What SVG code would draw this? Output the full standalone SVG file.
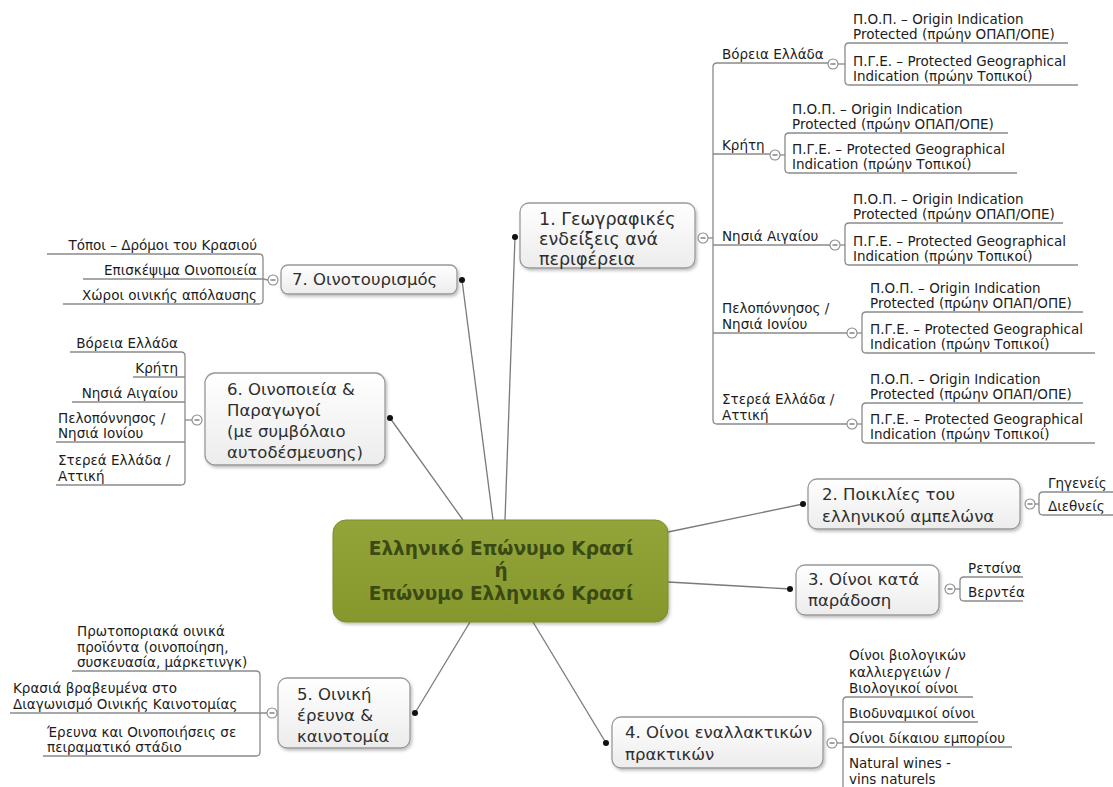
<svg xmlns="http://www.w3.org/2000/svg" width="1113" height="787" viewBox="0 0 1113 787">
  <defs>
    <linearGradient id="boxFill" x1="0" y1="0" x2="0" y2="1">
      <stop offset="0" stop-color="#ffffff"/>
      <stop offset="1" stop-color="#ececec"/>
    </linearGradient>
    <linearGradient id="rootFill" x1="0" y1="0" x2="0" y2="1">
      <stop offset="0" stop-color="#93a43a"/>
      <stop offset="1" stop-color="#86972c"/>
    </linearGradient>
    <filter id="shadow" x="-10%" y="-10%" width="130%" height="140%">
      <feDropShadow dx="1.5" dy="2" stdDeviation="1.5" flood-color="#000" flood-opacity="0.25"/>
    </filter>
  </defs>
  <style>
    .bg { fill: #ffffff; }
    .box { fill: url(#boxFill); stroke: #999999; stroke-width: 1.3; filter: url(#shadow); }
    .root { fill: url(#rootFill); stroke: #7d8d2a; stroke-width: 1; filter: url(#shadow); }
    .t { font-family: "DejaVu Sans", Verdana, sans-serif; font-size: 16.5px; fill: #2e2e2e; }
    .t1 { font-size: 17.5px; }
    .rt { font-family: "DejaVu Sans", Verdana, sans-serif; font-size: 18.5px; font-weight: bold; fill: #3a4a14; text-anchor: middle; }
    .s { font-family: "DejaVu Sans", Verdana, sans-serif; font-size: 13.5px; fill: #1c1c1c; }
    .e { text-anchor: end; }
    .ln { fill: none; stroke: #7a7a7a; stroke-width: 1.3; }
    .br { fill: none; stroke: #8a8a8a; stroke-width: 1.3; }
    .dot { fill: #111111; }
    .tog { fill: #ffffff; stroke: #8a8a8a; stroke-width: 1.1; }
    .tm { stroke: #555555; stroke-width: 1.1; }
  </style>

  <rect class="bg" x="0" y="0" width="1113" height="787"/>

  <!-- central topic links -->
  <g id="connectors">
    <path class="ln" d="M505,520 L515,237"/>
    <path class="ln" d="M493,520 L462,280"/>
    <path class="ln" d="M463,520 L390,418"/>
    <path class="ln" d="M470,622 L415,713"/>
    <path class="ln" d="M533,622 L606,743"/>
    <path class="ln" d="M668,532 L803,504"/>
    <path class="ln" d="M668,582 L790,589"/>
    <circle class="dot" cx="515" cy="237" r="3"/>
    <circle class="dot" cx="462" cy="280" r="3"/>
    <circle class="dot" cx="390" cy="418" r="3"/>
    <circle class="dot" cx="415" cy="713" r="3"/>
    <circle class="dot" cx="606" cy="743" r="3"/>
    <circle class="dot" cx="803" cy="504" r="3"/>
    <circle class="dot" cx="790" cy="589" r="3"/>
  </g>

  <!-- central topic -->
  <g id="root">
    <rect class="root" x="333" y="520" width="335" height="102" rx="13"/>
    <text class="rt" x="501" y="555">Ελληνικό Επώνυμο Κρασί</text>
    <text class="rt" x="501" y="577">ή</text>
    <text class="rt" x="501" y="600">Επώνυμο Ελληνικό Κρασί</text>
  </g>

  <!-- 1. geographical indications -->
  <g id="node1">
    <rect class="box" x="520" y="203" width="175" height="65" rx="9"/>
    <text class="t t1" x="539" y="225">1. Γεωγραφικές</text>
    <text class="t t1" x="539" y="245">ενδείξεις ανά</text>
    <text class="t t1" x="539" y="265">περιφέρεια</text>
    <path class="br" d="M708,238 H713"/>
    <path class="br" d="M828,63 H717 Q713,63 713,67 V420 Q713,424 717,424 H847"/>
    <path class="br" d="M713,154 H770"/>
    <path class="br" d="M713,245 H830"/>
    <path class="br" d="M713,333 H847"/>
    <circle class="tog" cx="703" cy="238" r="5"/><path class="tm" d="M700.5,238 H705.5"/>

    <text class="s" x="722" y="59">Βόρεια Ελλάδα</text>
    <text class="s" x="722" y="150">Κρήτη</text>
    <text class="s" x="722" y="241">Νησιά Αιγαίου</text>
    <text class="s" x="722" y="313">Πελοπόννησος /</text>
    <text class="s" x="722" y="329">Νησιά Ιονίου</text>
    <text class="s" x="722" y="404">Στερεά Ελλάδα /</text>
    <text class="s" x="722" y="420">Αττική</text>

    <!-- Βόρεια Ελλάδα -->
    <circle class="tog" cx="833" cy="64" r="5"/><path class="tm" d="M830.5,64 H835.5"/>
    <path class="br" d="M838,64 H845"/>
    <path class="br" d="M1068,43 H849 Q845,43 845,47 V81 Q845,85 849,85 H1078"/>
    <text class="s" x="853" y="23.5">Π.Ο.Π. – Origin Indication</text>
    <text class="s" x="853" y="39">Protected (πρώην ΟΠΑΠ/ΟΠΕ)</text>
    <text class="s" x="853" y="65.5">Π.Γ.Ε. – Protected Geographical</text>
    <text class="s" x="853" y="81">Indication (πρώην Τοπικοί)</text>

    <!-- Κρήτη -->
    <circle class="tog" cx="775" cy="155" r="5"/><path class="tm" d="M772.5,155 H777.5"/>
    <path class="br" d="M780,155 H785"/>
    <path class="br" d="M1008,133 H789 Q785,133 785,137 V169 Q785,173 789,173 H1017"/>
    <text class="s" x="792" y="113.5">Π.Ο.Π. – Origin Indication</text>
    <text class="s" x="792" y="129">Protected (πρώην ΟΠΑΠ/ΟΠΕ)</text>
    <text class="s" x="792" y="153.5">Π.Γ.Ε. – Protected Geographical</text>
    <text class="s" x="792" y="169">Indication (πρώην Τοπικοί)</text>

    <!-- Νησιά Αιγαίου -->
    <circle class="tog" cx="835" cy="245" r="5"/><path class="tm" d="M832.5,245 H837.5"/>
    <path class="br" d="M840,245 H845"/>
    <path class="br" d="M1063,223 H849 Q845,223 845,227 V261 Q845,265 849,265 H1078"/>
    <text class="s" x="853" y="203.5">Π.Ο.Π. – Origin Indication</text>
    <text class="s" x="853" y="219">Protected (πρώην ΟΠΑΠ/ΟΠΕ)</text>
    <text class="s" x="853" y="245.5">Π.Γ.Ε. – Protected Geographical</text>
    <text class="s" x="853" y="261">Indication (πρώην Τοπικοί)</text>

    <!-- Πελοπόννησος / Νησιά Ιονίου -->
    <circle class="tog" cx="852" cy="333" r="5"/><path class="tm" d="M849.5,333 H854.5"/>
    <path class="br" d="M857,333 H862"/>
    <path class="br" d="M1083,312 H866 Q862,312 862,316 V349 Q862,353 866,353 H1095"/>
    <text class="s" x="870" y="292.5">Π.Ο.Π. – Origin Indication</text>
    <text class="s" x="870" y="308">Protected (πρώην ΟΠΑΠ/ΟΠΕ)</text>
    <text class="s" x="870" y="333.5">Π.Γ.Ε. – Protected Geographical</text>
    <text class="s" x="870" y="349">Indication (πρώην Τοπικοί)</text>

    <!-- Στερεά Ελλάδα / Αττική -->
    <circle class="tog" cx="852" cy="424" r="5"/><path class="tm" d="M849.5,424 H854.5"/>
    <path class="br" d="M857,424 H862"/>
    <path class="br" d="M1083,403 H866 Q862,403 862,407 V439 Q862,443 866,443 H1095"/>
    <text class="s" x="870" y="383.5">Π.Ο.Π. – Origin Indication</text>
    <text class="s" x="870" y="399">Protected (πρώην ΟΠΑΠ/ΟΠΕ)</text>
    <text class="s" x="870" y="423.5">Π.Γ.Ε. – Protected Geographical</text>
    <text class="s" x="870" y="439">Indication (πρώην Τοπικοί)</text>
  </g>

  <!-- 2. grape varieties -->
  <g id="node2">
    <rect class="box" x="808" y="479" width="212" height="50" rx="9"/>
    <text class="t" x="822" y="500">2. Ποικιλίες του</text>
    <text class="t" x="822" y="522">ελληνικού αμπελώνα</text>
    <circle class="tog" cx="1030" cy="504" r="5"/><path class="tm" d="M1027.5,504 H1032.5"/>
    <path class="br" d="M1035,504 H1039"/>
    <path class="br" d="M1113,492 H1043 Q1039,492 1039,496 V511 Q1039,515 1043,515 H1113"/>
    <text class="s" x="1048" y="488">Γηγενείς</text>
    <text class="s" x="1048" y="511">Διεθνείς</text>
  </g>

  <!-- 3. traditional wines -->
  <g id="node3">
    <rect class="box" x="796" y="565" width="143" height="50" rx="9"/>
    <text class="t" x="808" y="585">3. Οίνοι κατά</text>
    <text class="t" x="808" y="606">παράδοση</text>
    <circle class="tog" cx="950" cy="589" r="5"/><path class="tm" d="M947.5,589 H952.5"/>
    <path class="br" d="M955,589 H960"/>
    <path class="br" d="M1023,577 H964 Q960,577 960,581 V597 Q960,601 964,601 H1023"/>
    <text class="s" x="968" y="573">Ρετσίνα</text>
    <text class="s" x="968" y="597">Βερντέα</text>
  </g>

  <!-- 4. alternative practices -->
  <g id="node4">
    <rect class="box" x="612" y="717" width="211" height="51" rx="9"/>
    <text class="t" x="625" y="738">4. Οίνοι εναλλακτικών</text>
    <text class="t" x="625" y="760">πρακτικών</text>
    <circle class="tog" cx="832" cy="743" r="5"/><path class="tm" d="M829.5,743 H834.5"/>
    <path class="br" d="M837,743 H843"/>
    <path class="br" d="M973,697 H847 Q843,697 843,701 V800"/>
    <path class="br" d="M843,722 H978"/>
    <path class="br" d="M843,747 H1012"/>
    <text class="s" x="849" y="660">Οίνοι βιολογικών</text>
    <text class="s" x="849" y="677">καλλιεργειών /</text>
    <text class="s" x="849" y="693">Βιολογικοί οίνοι</text>
    <text class="s" x="849" y="718">Βιοδυναμικοί οίνοι</text>
    <text class="s" x="849" y="743">Οίνοι δίκαιου εμπορίου</text>
    <text class="s" x="849" y="768">Natural wines -</text>
    <text class="s" x="849" y="784">vins naturels</text>
  </g>

  <!-- 5. research & innovation -->
  <g id="node5">
    <rect class="box" x="278" y="678" width="132" height="70" rx="9"/>
    <text class="t" x="297" y="700">5. Οινική</text>
    <text class="t" x="297" y="721">έρευνα &amp;</text>
    <text class="t" x="297" y="742">καινοτομία</text>
    <circle class="tog" cx="272" cy="713" r="5"/><path class="tm" d="M269.5,713 H274.5"/>
    <path class="br" d="M72,671 H256 Q260,671 260,675 V752 Q260,756 256,756 H43"/>
    <path class="br" d="M10,713 H267"/>
    <text class="s" x="77" y="636">Πρωτοποριακά οινικά</text>
    <text class="s" x="77" y="652">προϊόντα (οινοποίηση,</text>
    <text class="s" x="77" y="667">συσκευασία, μάρκετινγκ)</text>
    <text class="s" x="13" y="693">Κρασιά βραβευμένα στο</text>
    <text class="s" x="13" y="709">Διαγωνισμό Οινικής Καινοτομίας</text>
    <text class="s" x="47" y="737">Έρευνα και Οινοποιήσεις σε</text>
    <text class="s" x="47" y="752">πειραματικό στάδιο</text>
  </g>

  <!-- 6. wineries & producers -->
  <g id="node6">
    <rect class="box" x="205" y="373" width="180" height="92" rx="10"/>
    <text class="t" x="227" y="395">6. Οινοποιεία &amp;</text>
    <text class="t" x="227" y="416">Παραγωγοί</text>
    <text class="t" x="227" y="437">(με συμβόλαιο</text>
    <text class="t" x="227" y="458">αυτοδέσμευσης)</text>
    <circle class="tog" cx="197" cy="420" r="5"/><path class="tm" d="M194.5,420 H199.5"/>
    <path class="br" d="M185,420 H192"/>
    <path class="br" d="M70,352 H181 Q185,352 185,356 V481 Q185,485 181,485 H56"/>
    <path class="br" d="M133,377 H185"/>
    <path class="br" d="M72,402 H185"/>
    <path class="br" d="M56,442 H185"/>
    <text class="s e" x="178" y="348">Βόρεια Ελλάδα</text>
    <text class="s e" x="178" y="373">Κρήτη</text>
    <text class="s e" x="178" y="398">Νησιά Αιγαίου</text>
    <text class="s" x="58" y="423">Πελοπόννησος /</text>
    <text class="s" x="58" y="438">Νησιά Ιονίου</text>
    <text class="s" x="58" y="465">Στερεά Ελλάδα /</text>
    <text class="s" x="58" y="481">Αττική</text>
  </g>

  <!-- 7. wine tourism -->
  <g id="node7">
    <rect class="box" x="281" y="265" width="176" height="29" rx="7"/>
    <text class="t" x="292" y="285">7. Οινοτουρισμός</text>
    <circle class="tog" cx="273" cy="280" r="5"/><path class="tm" d="M270.5,280 H275.5"/>
    <path class="br" d="M47,254 H259 Q263,254 263,258 V300 Q263,304 259,304 H63"/>
    <path class="br" d="M83,279 H263 L268,280"/>
    <text class="s e" x="257" y="250">Τόποι – Δρόμοι του Κρασιού</text>
    <text class="s e" x="257" y="275">Επισκέψιμα Οινοποιεία</text>
    <text class="s e" x="257" y="300">Χώροι οινικής απόλαυσης</text>
  </g>
</svg>
